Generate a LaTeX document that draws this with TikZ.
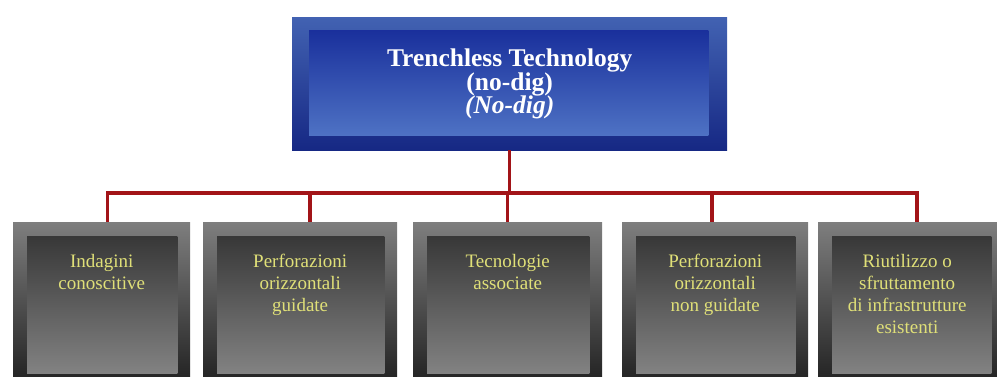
\documentclass[tikz,border=0pt]{standalone}
\usepackage{fontspec}
\setmainfont{Liberation Serif}
\definecolor{frameblue}{RGB}{66,98,178}
\definecolor{deepblue}{RGB}{22,40,132}
\definecolor{panelblue}{RGB}{26,48,156}
\definecolor{paleblue}{RGB}{78,114,196}
\definecolor{linered}{RGB}{162,20,24}
\definecolor{labelyellow}{RGB}{224,224,120}
\definecolor{framegray}{RGB}{126,126,126}
\definecolor{shadegray}{RGB}{34,34,34}
\definecolor{panelgray}{RGB}{130,130,130}
\usetikzlibrary{positioning}

\begin{document}
\begin{tikzpicture}[x=1pt,y=-1pt,
    tile/.style={anchor=north west, inner sep=0pt, minimum height=160pt,
        top color=framegray, bottom color=shadegray},
    panel/.style={top color=shadegray!90!white, bottom color=panelgray},
    tiletext/.style={anchor=north, inner sep=0pt, align=center, text=labelyellow,
        font=\fontsize{19}{22}\selectfont},
    headbox/.style={anchor=north west, inner sep=0pt, minimum width=435pt,
        minimum height=133pt, top color=frameblue, bottom color=deepblue},
    headpanel/.style={top color=panelblue, bottom color=paleblue},
    feeder/.style={linered, line width=3.5pt}]
    \useasboundingbox (0,0) rectangle (997,377);

    % head of the tree
    \node[headbox] (top) at (292,17) {};
    \shade[headpanel] ([shift={(17,14)}]top.north west) rectangle ([shift={(-19,-15)}]top.south east);
    \node[anchor=north, inner sep=0pt, align=center, text=white,
        font=\fontsize{25.5}{23.5}\selectfont\bfseries] (title) at ([yshift=-32]top.north)
        {Trenchless Technology\\(no-dig)\\\textit{(No-dig)}};

    % the five branches
    \node[tile, minimum width=177pt] (b1) at (13,222) {};
    \node[tile, minimum width=194pt] (b2) at (203,222) {};
    \node[tile, minimum width=189pt] (b3) at (413,222) {};
    \node[tile, minimum width=186pt] (b4) at (622,222) {};
    \node[tile, minimum width=186pt] (b5) at (818,222) {};
    \foreach \b in {b1,b2,b3,b4,b5}
        \shade[panel] ([shift={(14,15)}]\b.north west) rectangle ([shift={(-13,-9)}]\b.south east);

    \node[tiletext] (t1) at ([yshift=-32]b1.north) {Indagini\\conoscitive};
    \node[tiletext] (t2) at ([yshift=-32]b2.north) {Perforazioni\\orizzontali\\guidate};
    \node[tiletext] (t3) at ([yshift=-32]b3.north) {Tecnologie\\associate};
    \node[tiletext] (t4) at ([yshift=-32]b4.north) {Perforazioni\\orizzontali\\non guidate};
    \node[tiletext] (t5) at ([xshift=-4,yshift=-32]b5.north) {Riutilizzo o\\sfruttamento\\di infrastrutture\\esistenti};

    % connectors
    \coordinate (bus) at (508,193);
    \draw[feeder] (top.south) -- (top.south |- bus);
    \draw[feeder] ([xshift=6]b1.north) |- (bus) -| ([xshift=6]b5.north);
    \foreach \b/\dx in {b2/10,b3/0,b4/-3}
        \draw[feeder] ([xshift=\dx]\b.north) -- ([xshift=\dx]\b.north |- bus);
\end{tikzpicture}
\end{document}
